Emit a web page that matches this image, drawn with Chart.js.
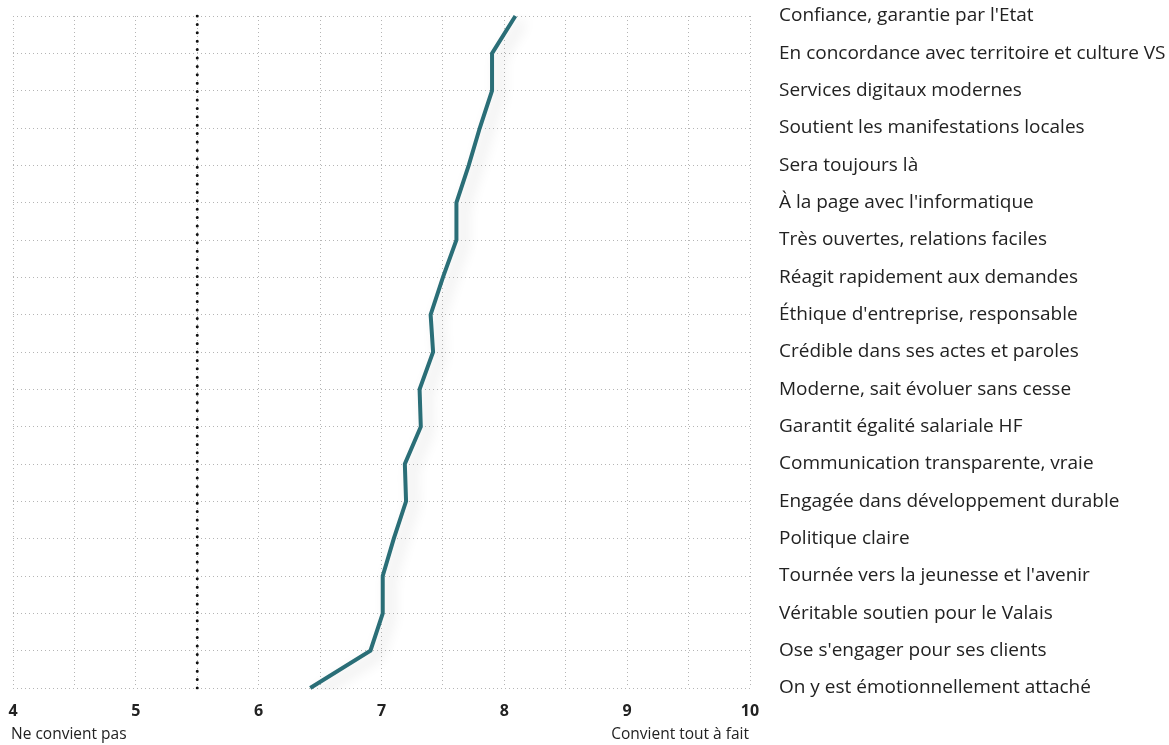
<!DOCTYPE html>
<html>
<head>
<meta charset="utf-8">
<script src="https://cdn.jsdelivr.net/npm/chart.js@4"></script>
<style>
  html, body { margin: 0; padding: 0; background: #fff; }
  #wrap { width: 1169px; height: 745px; position: relative; }
</style>
</head>
<body>
<div id="wrap"><canvas id="profileChart"></canvas></div>
<script>
const categories = [
  "Confiance, garantie par l'Etat",
  "En concordance avec territoire et culture VS",
  "Services digitaux modernes",
  "Soutient les manifestations locales",
  "Sera toujours là",
  "À la page avec l'informatique",
  "Très ouvertes, relations faciles",
  "Réagit rapidement aux demandes",
  "Éthique d'entreprise, responsable",
  "Crédible dans ses actes et paroles",
  "Moderne, sait évoluer sans cesse",
  "Garantit égalité salariale HF",
  "Communication transparente, vraie",
  "Engagée dans développement durable",
  "Politique claire",
  "Tournée vers la jeunesse et l'avenir",
  "Véritable soutien pour le Valais",
  "Ose s'engager pour ses clients",
  "On y est émotionnellement attaché"
];
const scores = [8.09, 7.9, 7.9, 7.8, 7.71, 7.61, 7.61, 7.5, 7.4, 7.42, 7.31, 7.32, 7.19, 7.2, 7.1, 7.01, 7.01, 6.91, 6.42];
const referenceValue = 5.5;
const xMin = 4;
const xMax = 10;
const leftTitle = "Ne convient pas";
const rightTitle = "Convient tout à fait";

// soft shadow under the main line
const shadowPlugin = {
  id: "lineShadow",
  beforeDatasetDraw(chart, args) {
    if (args.index !== 0) return;
    const ctx = chart.ctx;
    ctx.save();
    ctx.shadowColor = "rgba(0,0,0,0.16)";
    ctx.shadowBlur = 14;
    ctx.shadowOffsetX = 7;
    ctx.shadowOffsetY = 5;
  },
  afterDatasetDraw(chart, args) {
    if (args.index !== 0) return;
    chart.ctx.restore();
  }
};

// the two end titles under the x axis
const endTitles = {
  id: "endTitles",
  afterDraw(chart) {
    const ctx = chart.ctx;
    const area = chart.chartArea;
    ctx.save();
    ctx.font = "15.5px 'Open Sans'";
    ctx.fillStyle = "#222";
    ctx.textBaseline = "middle";
    ctx.textAlign = "left";
    ctx.fillText(leftTitle, area.left - 2, 735);
    ctx.textAlign = "right";
    ctx.fillText(rightTitle, area.right - 1, 735);
    ctx.restore();
  }
};

const ctx = document.getElementById("profileChart").getContext("2d");

new Chart(ctx, {
  type: "line",
  data: {
    labels: categories,
    datasets: [
      {
        data: scores,
        borderColor: "#2a6e77",
        borderWidth: 4,
        pointRadius: 0,
        tension: 0,
        fill: false
      },
      {
        data: [
          { x: referenceValue, y: categories[0] },
          { x: referenceValue, y: categories[categories.length - 1] }
        ],
        borderColor: "#111",
        borderWidth: 3,
        borderDash: [0, 8.4],
        borderCapStyle: "round",
        pointRadius: 0,
        fill: false
      }
    ]
  },
  options: {
    indexAxis: "y",
    responsive: true,
    maintainAspectRatio: false,
    animation: false,
    layout: {
      padding: { left: 13, top: 16, right: 0, bottom: 0 }
    },
    plugins: {
      legend: { display: false },
      tooltip: { enabled: false }
    },
    scales: {
      x: {
        type: "linear",
        min: xMin,
        max: xMax,
        grid: {
          color: "#b5b5b5",
          lineWidth: 1,
          drawTicks: false
        },
        border: { display: false, dash: [1, 3] },
        ticks: {
          stepSize: 0.5,
          padding: 14,
          color: "#222",
          font: { family: "'Open Sans'", size: 16, weight: "bold" },
          maxRotation: 0,
          callback: function (value) {
            return Number.isInteger(value) ? value : "";
          }
        },
        afterFit: function (scale) {
          scale.height = 57;
          scale.paddingLeft = 0;
          scale.paddingRight = 0;
        }
      },
      y: {
        type: "category",
        position: "right",
        offset: false,
        grid: {
          color: "#b5b5b5",
          lineWidth: 1,
          drawTicks: false
        },
        border: { display: false, dash: [1, 3] },
        ticks: {
          padding: 29,
          color: "#222",
          font: { family: "'Open Sans'", size: 19 },
          autoSkip: false
        },
        afterFit: function (scale) {
          scale.width = 419;
          scale.paddingTop = 0;
          scale.paddingBottom = 0;
        }
      }
    }
  },
  plugins: [shadowPlugin, endTitles]
});
</script>
</body>
</html>
